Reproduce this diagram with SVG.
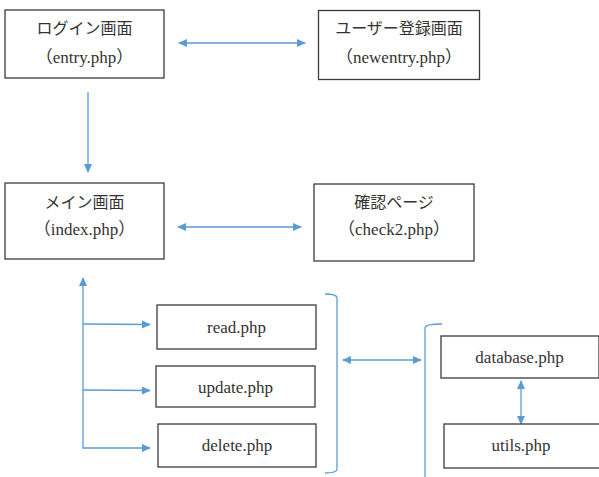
<svg xmlns="http://www.w3.org/2000/svg" width="599" height="477" viewBox="0 0 599 477">
<style>
.box{fill:#fff;stroke:#3b3b3b;stroke-width:1.3}
.t{font-family:"Liberation Serif","Noto Sans CJK JP",serif;font-size:16px;fill:#333;text-anchor:middle}
.l{font-size:17px}
.c{fill:none;stroke:#5B9BD5;stroke-width:1.3}
</style>
<defs>
<marker id="ah" viewBox="0 0 10 10" refX="9" refY="5" markerWidth="9" markerHeight="9" markerUnits="userSpaceOnUse" orient="auto-start-reverse">
<path d="M0,0.5 L10,5 L0,9.5 Z" fill="#5B9BD5"/>
</marker>
</defs>
<g id="connectors">
<line class="c" x1="179" y1="43" x2="305" y2="43" marker-start="url(#ah)" marker-end="url(#ah)"/>
<line class="c" x1="88" y1="92" x2="88" y2="172" marker-end="url(#ah)"/>
<line class="c" x1="178" y1="227" x2="301" y2="227" marker-start="url(#ah)" marker-end="url(#ah)"/>
<polyline class="c" points="83,278 83,448 150,448" marker-start="url(#ah)" marker-end="url(#ah)"/>
<line class="c" x1="83" y1="324" x2="150" y2="324.5" marker-end="url(#ah)"/>
<line class="c" x1="83" y1="390" x2="150" y2="390.5" marker-end="url(#ah)"/>
<path class="c" d="M325,294 Q337,294 337,298 L337,469 Q337,473 325,473"/>
<line class="c" x1="343" y1="360" x2="421" y2="360" marker-start="url(#ah)" marker-end="url(#ah)"/>
<path class="c" d="M442,324 Q425,324 425,328 L425,477"/>
<line class="c" x1="521" y1="381" x2="521" y2="424" marker-start="url(#ah)" marker-end="url(#ah)"/>
</g>
<g id="login">
<rect class="box" x="5" y="10" width="159" height="68"/>
<text class="t" x="84.5" y="34">ログイン画面</text>
<text class="t l" x="84.5" y="63">（entry.php）</text>
</g>
<g id="newentry">
<rect class="box" x="318.5" y="10.5" width="161" height="69"/>
<text class="t" x="399" y="34">ユーザー登録画面</text>
<text class="t l" x="399" y="63">（newentry.php）</text>
</g>
<g id="index">
<rect class="box" x="5" y="183" width="159" height="76"/>
<text class="t" x="84.5" y="208">メイン画面</text>
<text class="t l" x="84.5" y="235">（index.php）</text>
</g>
<g id="check2">
<rect class="box" x="314" y="184" width="160" height="77"/>
<text class="t" x="394" y="208">確認ページ</text>
<text class="t l" x="394" y="235">（check2.php）</text>
</g>
<g id="read">
<rect class="box" x="157" y="305" width="159" height="44"/>
<text class="t l" x="236.5" y="333">read.php</text>
</g>
<g id="update">
<rect class="box" x="156" y="366" width="159" height="41"/>
<text class="t l" x="235.5" y="393">update.php</text>
</g>
<g id="delete">
<rect class="box" x="158" y="424" width="158" height="43"/>
<text class="t l" x="237" y="451">delete.php</text>
</g>
<g id="database">
<rect class="box" x="441" y="336" width="158" height="42"/>
<text class="t l" x="519.5" y="363">database.php</text>
</g>
<g id="utils">
<rect class="box" x="444" y="424" width="156" height="44"/>
<text class="t l" x="521" y="451">utils.php</text>
</g>
</svg>
